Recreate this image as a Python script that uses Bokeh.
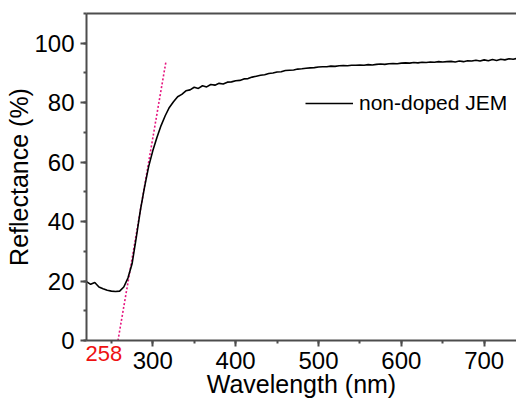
from bokeh.plotting import figure
from bokeh.models import (Range1d, LinearAxis, SingleIntervalTicker, FixedTicker,
                          Legend, LegendItem)
from bokeh.embed import file_html
from bokeh.resources import INLINE

# ---- data ----
wavelength = list(range(220, 745, 5))
reflectance = [
    19.8, 18.9, 19.5, 18.0, 17.4, 16.9, 16.6, 16.5, 16.6, 18.0,   # 220-265
    21.0, 25.8, 34.5, 43.8, 51.5, 58.5, 63.8, 68.3, 72.3, 75.6,   # 270-315
    78.4, 80.3, 82.0, 82.8, 84.0, 84.3, 85.2, 84.8, 85.7, 85.3,   # 320-365
    86.1, 85.9, 86.5, 86.3, 86.9, 87.0, 87.4, 87.5, 88.0, 88.1,   # 370-415
    88.6, 88.9, 89.2, 89.4, 89.8, 90.0, 90.3, 90.4, 90.8, 90.9,   # 420-465
    91.0, 91.3, 91.4, 91.6, 91.7, 91.8, 92.0, 92.1, 92.1, 92.3,   # 470-515
    92.2, 92.4, 92.5, 92.4, 92.6, 92.6, 92.7, 92.6, 92.8, 92.7,   # 520-565
    92.9, 93.0, 92.9, 93.1, 93.2, 93.1, 93.3, 93.4, 93.3, 93.5,   # 570-615
    93.4, 93.6, 93.5, 93.7, 93.6, 93.8, 93.7, 93.8, 93.9, 93.7,   # 620-665
    94.0, 93.8, 94.1, 94.0, 94.3, 94.0, 94.4, 94.1, 94.5, 94.2,   # 670-715
    94.6, 94.4, 94.8, 94.6, 94.9,                                 # 720-740
]
tangent_x = [258, 316]
tangent_y = [0, 94]
onset_x = 258
series_name = "non-doped JEM"
x_label = "Wavelength (nm)"
y_label = "Reflectance (%)"

FONT = "Liberation Sans"
AXIS_COLOR = "#4d4d4d"
ONSET_LABEL_SHIFT = -17   # label sits to the left of the onset point (nm)

p = figure(width=516, height=400, output_backend="svg", toolbar_location=None,
           x_range=Range1d(220, 739), y_range=Range1d(0, 110),
           min_border_left=86, min_border_top=13, min_border_bottom=60,
           min_border_right=0, x_axis_location=None, y_axis_location=None)
p.grid.visible = False
p.outline_line_color = None
p.background_fill_color = "white"

xaxis = LinearAxis(ticker=SingleIntervalTicker(interval=100, num_minor_ticks=2))
yaxis = LinearAxis(ticker=SingleIntervalTicker(interval=20, num_minor_ticks=2),
                   axis_label=y_label)
for ax in (xaxis, yaxis):
    ax.axis_line_color = AXIS_COLOR
    ax.axis_line_width = 2
    ax.major_tick_line_color = AXIS_COLOR
    ax.minor_tick_line_color = AXIS_COLOR
    ax.major_tick_line_width = 2
    ax.minor_tick_line_width = 2
    ax.major_tick_in = 0
    ax.major_tick_out = 6
    ax.minor_tick_in = 0
    ax.minor_tick_out = 3
    ax.major_label_text_font = FONT
    ax.major_label_text_font_size = "24px"
    ax.major_label_text_color = "black"
    ax.axis_label_text_font = FONT
    ax.axis_label_text_font_size = "25px"
    ax.axis_label_text_font_style = "normal"
    ax.axis_label_text_color = "black"
xaxis.major_label_standoff = 5
yaxis.major_label_standoff = 6
yaxis.axis_label_standoff = -2
p.add_layout(xaxis, "below")
p.add_layout(yaxis, "left")

# second, line-less bottom axis: red onset value + the x axis title
onset_tick = onset_x + ONSET_LABEL_SHIFT
onset_axis = LinearAxis(ticker=FixedTicker(ticks=[onset_tick], minor_ticks=[]),
                        major_label_overrides={onset_tick: str(onset_x)},
                        axis_label=x_label)
onset_axis.axis_line_color = None
onset_axis.major_tick_line_color = None
onset_axis.minor_tick_line_color = None
onset_axis.major_tick_in = 0
onset_axis.major_tick_out = 0
onset_axis.minor_tick_in = 0
onset_axis.minor_tick_out = 0
onset_axis.major_label_text_font = FONT
onset_axis.major_label_text_font_size = "22px"
onset_axis.major_label_text_color = "#ee1111"
onset_axis.major_label_standoff = -26
onset_axis.axis_label_text_font = FONT
onset_axis.axis_label_text_font_size = "25px"
onset_axis.axis_label_text_font_style = "normal"
onset_axis.axis_label_text_color = "black"
onset_axis.axis_label_standoff = 6
p.add_layout(onset_axis, "below")

top = LinearAxis(ticker=FixedTicker(ticks=[]), axis_line_color=AXIS_COLOR,
                 axis_line_width=2, major_label_text_font_size="0px",
                 major_tick_line_color=None, minor_tick_line_color=None)
p.add_layout(top, "above")

p.line(tangent_x, tangent_y, line_color="#e6157f", line_width=1.6, line_dash="2 2")
r = p.line(wavelength, reflectance, line_color="black", line_width=1.6)

legend = Legend(items=[LegendItem(label=series_name, renderers=[r])],
                location=(219, 225), padding=0, margin=0, spacing=0,
                glyph_width=48, glyph_height=20, label_height=20,
                label_standoff=6, label_text_font=FONT,
                label_text_font_size="21px", label_text_color="black",
                border_line_color=None, background_fill_alpha=0)
p.add_layout(legend, "center")

open("out.html", "w").write(file_html(p, INLINE))
